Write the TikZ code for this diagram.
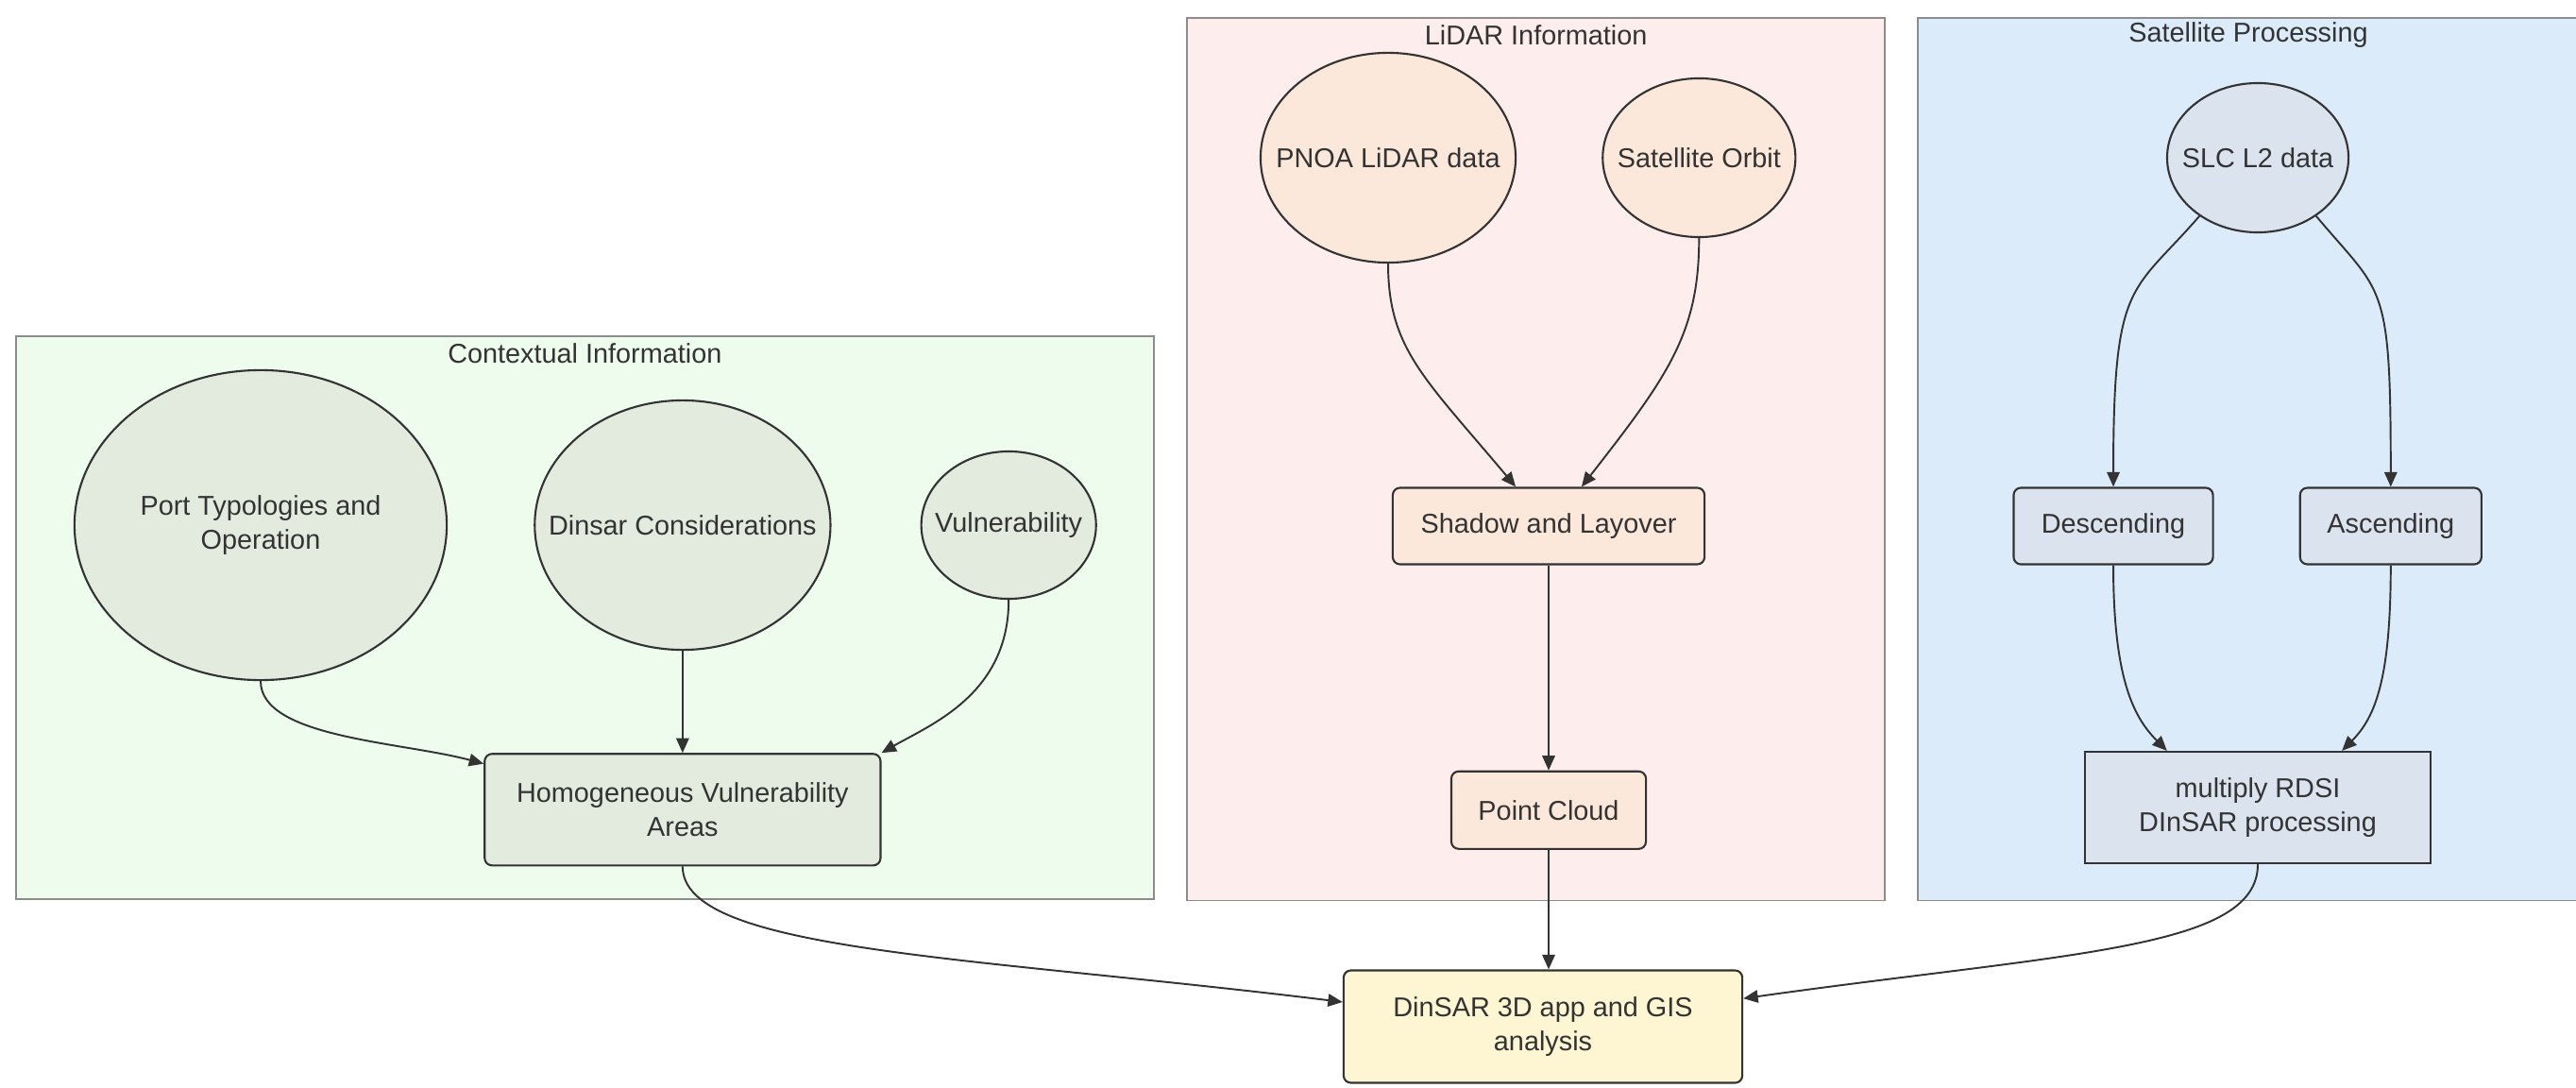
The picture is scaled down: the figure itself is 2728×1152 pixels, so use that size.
\documentclass[tikz,border=0pt]{standalone}
\usepackage{fontspec}
\setmainfont{Liberation Sans}
\usepackage{xcolor}
\usetikzlibrary{arrows.meta,positioning,shapes.geometric}

\definecolor{ink}{HTML}{333333}
\definecolor{frame}{HTML}{8C8C8C}
\definecolor{ctxbg}{HTML}{EDFCEC}
\definecolor{ctxnode}{HTML}{E3EBDF}
\definecolor{lidbg}{HTML}{FDEDED}
\definecolor{lidnode}{HTML}{FBE8DA}
\definecolor{satbg}{HTML}{DCEBFA}
\definecolor{satnode}{HTML}{DAE3EE}
\definecolor{outbg}{HTML}{FEF5D2}

\begin{document}
\begin{tikzpicture}[
  x=0.01cm, y=-0.01cm,
  >={Triangle[length=4.4pt,width=3.8pt]},
  font=\fontsize{8.2pt}{10.3pt}\selectfont,
  panel/.style={draw=frame, fill=#1, line width=0.55pt, inner sep=0pt,
                anchor=north west},
  ttl/.style={text=ink},
  blob/.style={ellipse, draw=ink, fill=#1, line width=0.6pt,
               inner sep=-1cm, align=center, text=ink},
  box/.style={draw=ink, fill=#1, line width=0.6pt, rounded corners=2.2pt,
              inner sep=0pt, align=center, text=ink},
  arr/.style={->, draw=ink, line width=0.55pt},
]
\useasboundingbox (0,0) rectangle (2728,1152);
%% Panels
\node[panel=ctxbg, minimum width=12.04cm, minimum height=5.96cm] (ctx) at (16,355) {};
\node[panel=lidbg, minimum width=7.39cm, minimum height=9.34cm] (lid) at (1256,18) {};
\node[panel=satbg, minimum width=7.2cm, minimum height=9.34cm] (sat) at (2030,18) {};
\node[ttl] (ctxT) at ([yshift=-0.19cm]ctx.north) {Contextual Information};
\node[ttl] (lidT) at ([yshift=-0.19cm]lid.north) {LiDAR Information};
\node[ttl] (satT) at ([yshift=-0.19cm]sat.north-|2381,0) {Satellite Processing};
%% Contextual information
\node[blob=ctxnode, minimum width=3.94cm, minimum height=3.28cm] (port) at (276,556)
  {Port Typologies and\\Operation};
\node[blob=ctxnode, minimum width=3.13cm, minimum height=2.64cm, right=0.91cm of port] (dcons)
  {Dinsar Considerations};
\node[blob=ctxnode, minimum width=1.85cm, minimum height=1.56cm, right=0.94cm of dcons] (vuln)
  {Vulnerability};
\node[box=ctxnode, minimum width=4.19cm, minimum height=1.18cm, below=1.08cm of dcons] (homog)
  {Homogeneous Vulnerability\\Areas};
\draw[arr] (port.south) to[out=-90, in=165, out distance=0.6cm, in distance=0.9cm] (homog.167);
\draw[arr] (dcons) -- (homog);
\draw[arr] (vuln.south) to[out=-90, in=30, out distance=1cm, in distance=0.6cm] (homog.north east);
%% LiDAR information
\node[blob=lidnode, minimum width=2.70cm, minimum height=2.22cm] (pnoa) at (1470,167)
  {PNOA LiDAR data};
\node[blob=lidnode, minimum width=2.04cm, minimum height=1.68cm, right=0.9cm of pnoa] (orbit)
  {Satellite Orbit};
\node[box=lidnode, minimum width=3.30cm, minimum height=0.81cm] (shadow) at (1640,557)
  {Shadow and Layover};
\node[box=lidnode, minimum width=2.06cm, minimum height=0.82cm, below=2.17cm of shadow] (point)
  {Point Cloud};
\draw[arr] (pnoa.south) to[out=-90, in=130, out distance=0.9cm, in distance=1.5cm] (shadow.130);
\draw[arr] (orbit.south) to[out=-90, in=52, out distance=1cm, in distance=1.5cm] (shadow.50);
\draw[arr] (shadow) -- (point);
%% Satellite processing
\node[blob=satnode, minimum width=1.92cm, minimum height=1.58cm] (slc) at (2391,167)
  {SLC L2 data};
\node[box=satnode, minimum width=2.11cm, minimum height=0.81cm] (desc) at (2238,557)
  {Descending};
\node[box=satnode, minimum width=1.92cm, minimum height=0.81cm, right=0.9cm of desc] (asc)
  {Ascending};
\node[box=satnode, sharp corners, minimum width=3.66cm, minimum height=1.18cm] (mult) at (2391,855)
  {multiply RDSI\\DInSAR processing};
\draw[arr] (slc.225) to[out=-131, in=90, out distance=1.1cm, in distance=2.2cm] (desc.north);
\draw[arr] (slc.-45) to[out=-50, in=90, out distance=1.1cm, in distance=2.2cm] (asc.north);
\draw[arr] (desc.south) to[out=-90, in=135, out distance=1.2cm, in distance=0.5cm] (mult.148);
\draw[arr] (asc.south) to[out=-90, in=45, out distance=1.2cm, in distance=0.5cm] (mult.34);
%% Output
\node[box=outbg, minimum width=4.22cm, minimum height=1.19cm] (dinsar) at (1634,1087)
  {DinSAR 3D app and GIS\\analysis};
\draw[arr] (homog.south) to[out=-90, in=173, out distance=0.9cm, in distance=4cm] (dinsar.173);
\draw[arr] (point.south) -- (point.south |- dinsar.north);
\draw[arr] (mult.south) to[out=-90, in=8, out distance=0.9cm, in distance=3.5cm] (dinsar.8);
\end{tikzpicture}
\end{document}
